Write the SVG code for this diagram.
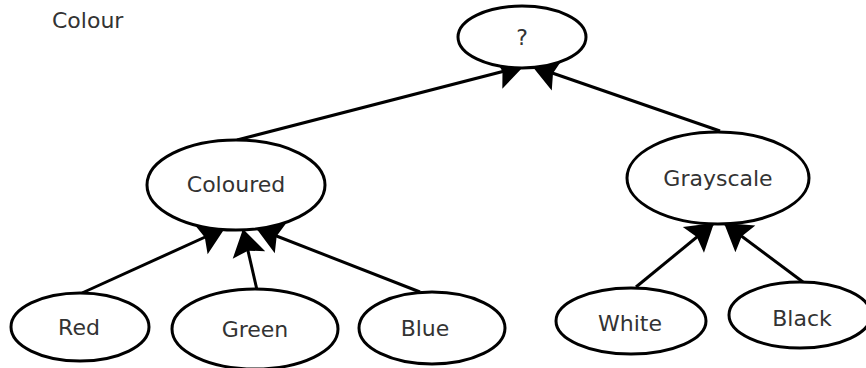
<svg xmlns="http://www.w3.org/2000/svg" width="866" height="368" viewBox="0 0 866 368">
  <style>
    .node ellipse { fill: #fff; stroke: #000; stroke-width: 3; }
    .node text, .title { font-family: "DejaVu Sans", "Liberation Sans", sans-serif; font-size: 22px; fill: #333; text-anchor: middle; dominant-baseline: central; }
    .title { text-anchor: start; }
    .edges path { fill: none; stroke: #000; stroke-width: 3; marker-end: url(#arrow); }
  </style>
  <defs>
    <!-- large barbed head; the node ellipses are painted over part of it -->
    <marker id="arrow" markerUnits="userSpaceOnUse" markerWidth="40" markerHeight="40" viewBox="-28 -18 32 36" refX="0" refY="0" orient="auto">
      <path d="M0,0 L-24,-15 L-20,0 L-24,15 Z" fill="#000"/>
    </marker>
  </defs>

  <rect width="866" height="368" fill="#fff"/>
  <text class="title" x="52" y="20">Colour</text>

  <g class="edges">
    <path d="M237,140 L524,66"/>
    <path d="M720,131 L532,66"/>
    <path d="M82,293 L225,228"/>
    <path d="M257,290 L243,229"/>
    <path d="M420,292 L256,228"/>
    <path d="M636,287 L714,223"/>
    <path d="M803,282 L724,223"/>
  </g>

  <g id="root" class="node">
    <ellipse cx="522" cy="37" rx="64" ry="31"/>
    <text x="522" y="37">?</text>
  </g>
  <g id="coloured" class="node">
    <ellipse cx="236" cy="185" rx="89" ry="45"/>
    <text x="236" y="184">Coloured</text>
  </g>
  <g id="grayscale" class="node">
    <ellipse cx="718" cy="178" rx="91" ry="46"/>
    <text x="718" y="178">Grayscale</text>
  </g>
  <g id="red" class="node">
    <ellipse cx="80" cy="327" rx="69" ry="34"/>
    <text x="79" y="327">Red</text>
  </g>
  <g id="green" class="node">
    <ellipse cx="255" cy="329" rx="83" ry="40"/>
    <text x="255" y="329">Green</text>
  </g>
  <g id="blue" class="node">
    <ellipse cx="432" cy="328" rx="73" ry="36"/>
    <text x="425" y="328">Blue</text>
  </g>
  <g id="white" class="node">
    <ellipse cx="631" cy="321" rx="75" ry="33"/>
    <text x="630" y="323">White</text>
  </g>
  <g id="black" class="node">
    <ellipse cx="800" cy="315" rx="71" ry="33"/>
    <text x="802" y="318">Black</text>
  </g>
</svg>
